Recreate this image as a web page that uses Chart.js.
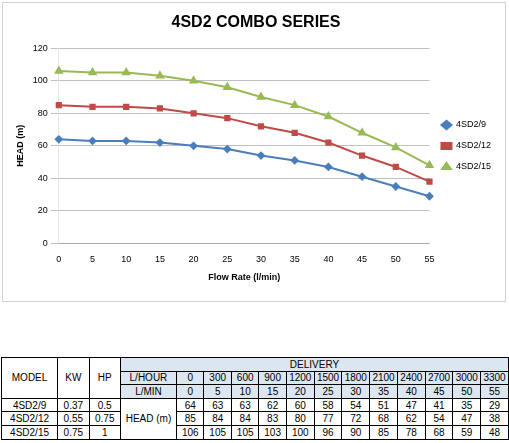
<!DOCTYPE html>
<html>
<head>
<meta charset="utf-8">
<script src="https://cdn.jsdelivr.net/npm/chart.js@4"></script>
<style>
  body { margin:0; background:#fff; font-family:"Liberation Sans",Arial,sans-serif; }
  #box { position:absolute; left:2px; top:2px; width:504px; height:300px; border:1px solid #d0d0d0; box-sizing:border-box; }
  table { position:absolute; left:1px; top:357px; border-collapse:collapse; font-size:10px; font-family:"Liberation Sans",Arial,sans-serif; }
  td { border:1px solid #000; text-align:center; padding:0; height:12.6px; line-height:11px; }
  .h { background:#dce6f1; }
</style>
</head>
<body>
<div id="box"><canvas id="c" width="502" height="298"></canvas></div>
<table id="t"></table>
<script>
// ---- données ----
const debitMin = [0, 5, 10, 15, 20, 25, 30, 35, 40, 45, 50, 55]
const debitHeure = [0, 300, 600, 900, 1200, 1500, 1800, 2100, 2400, 2700, 3000, 3300]
const sd2_9 = [64, 63, 63, 62, 60, 58, 54, 51, 47, 41, 35, 29]
const sd2_12 = [85, 84, 84, 83, 80, 77, 72, 68, 62, 54, 47, 38]
const sd2_15 = [106, 105, 105, 103, 100, 96, 90, 85, 78, 68, 59, 48]
const modeles = ['4SD2/9', '4SD2/12', '4SD2/15']
const kw = ['0.37', '0.55', '0.75']
const hp = ['0.5', '0.75', '1']

new Chart(document.getElementById('c'), {
  type: 'line',
  data: {
    labels: debitMin,
    datasets: [
      { label: '4SD2/9', data: sd2_9, borderColor: '#4a7ebb', backgroundColor: '#4a7ebb', pointStyle: 'rectRot', pointRadius: 3, borderWidth: 2 },
      { label: '4SD2/12', data: sd2_12, borderColor: '#be4b48', backgroundColor: '#be4b48', pointStyle: 'rect', pointRadius: 3, borderWidth: 2 },
      { label: '4SD2/15', data: sd2_15, borderColor: '#98b954', backgroundColor: '#98b954', pointStyle: 'triangle', pointRadius: 3.5, borderWidth: 2 }
    ]
  },
  options: {
    responsive: false,
    animation: false,
    layout: { padding: { left: 8, right: 4, top: 2, bottom: 14 } },
    plugins: {
      title: { display: true, text: '4SD2 COMBO SERIES', color: '#000', font: { size: 16, weight: 'bold' }, padding: { top: 8, bottom: 16 } },
      legend: { position: 'right', labels: { usePointStyle: true, pointStyleWidth: 10, boxHeight: 6, padding: 12, color: '#000', font: { size: 9 } } }
    },
    scales: {
      x: {
        title: { display: true, text: 'Flow Rate (l/min)', color: '#000', font: { size: 9, weight: 'bold' } },
        grid: { display: false },
        ticks: { color: '#000', font: { size: 9 } }
      },
      y: {
        min: 0, max: 120,
        title: { display: true, text: 'HEAD (m)', color: '#000', font: { size: 9, weight: 'bold' } },
        grid: { color: '#bfbfbf' },
        ticks: { stepSize: 20, color: '#000', font: { size: 9 } }
      }
    }
  }
})

// ---- tableau ----
const w = [56, 31, 31, 56]
let html = '<tr><td rowspan="3" style="width:' + w[0] + 'px">MODEL</td><td rowspan="3" style="width:' + w[1] + 'px">KW</td><td rowspan="3" style="width:' + w[2] + 'px">HP</td><td colspan="13" class="h">DELIVERY</td></tr>'
html += '<tr><td class="h" style="width:' + w[3] + 'px">L/HOUR</td>' + debitHeure.map(v => '<td class="h" style="width:27px">' + v + '</td>').join('') + '</tr>'
html += '<tr><td class="h">L/MIN</td>' + debitMin.map(v => '<td class="h">' + v + '</td>').join('') + '</tr>'
const series = [sd2_9, sd2_12, sd2_15]
modeles.forEach((m, i) => {
  html += '<tr><td>' + m + '</td><td>' + kw[i] + '</td><td>' + hp[i] + '</td>'
  if (i === 0) html += '<td rowspan="3">HEAD (m)</td>'
  html += series[i].map(v => '<td>' + v + '</td>').join('') + '</tr>'
})
document.getElementById('t').innerHTML = html
</script>
</body>
</html>
